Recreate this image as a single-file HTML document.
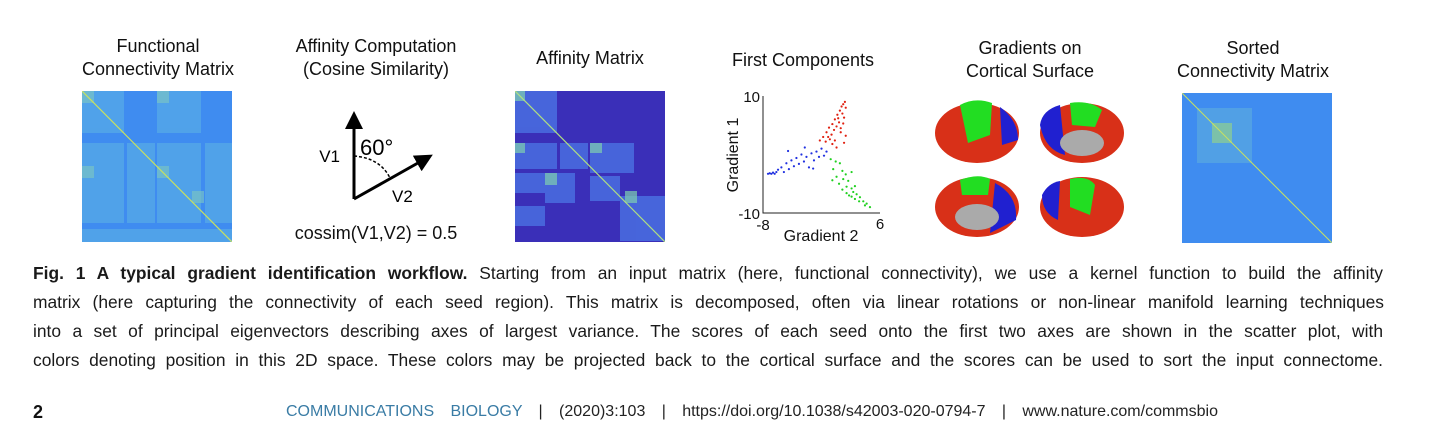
<!DOCTYPE html>
<html><head><meta charset="utf-8"><style>
body{margin:0;width:1438px;height:445px;background:#fff;position:relative;overflow:hidden;font-family:"Liberation Sans",sans-serif;color:#111}
.t{position:absolute;font-size:18px;text-align:center;line-height:23px;color:#111}
.cap{position:absolute;left:33px;top:259px;font-size:17.4px;line-height:29px;color:#1a1a1a}
.ln{display:block;white-space:nowrap;text-align:justify;text-align-last:justify;height:29px}
.mat{position:absolute}
</style></head><body>
<div class="t" style="left:58px;top:35px;width:200px">Functional<br>Connectivity Matrix</div>
<div class="t" style="left:266px;top:35px;width:220px">Affinity Computation<br>(Cosine Similarity)</div>
<div class="t" style="left:490px;top:47px;width:200px">Affinity Matrix</div>
<div class="t" style="left:703px;top:49px;width:200px">First Components</div>
<div class="t" style="left:930px;top:37px;width:200px">Gradients on<br>Cortical Surface</div>
<div class="t" style="left:1143px;top:37px;width:220px">Sorted<br>Connectivity Matrix</div>

<svg class="mat" style="left:82px;top:91px" width="150" height="151">
<rect width="150" height="151" fill="#3f8cf0"/>
<g fill="#55a8e8" opacity="0.8"><rect x="0" y="0" width="42" height="42"/><rect x="75" y="0" width="44" height="42"/><rect x="0" y="52" width="42" height="80"/><rect x="45" y="52" width="28" height="80"/><rect x="75" y="52" width="44" height="80"/><rect x="123" y="52" width="27" height="80"/><rect x="0" y="138" width="150" height="13"/></g>
<g fill="#7ec8c0" opacity="0.6"><rect x="0" y="0" width="12" height="12"/><rect x="75" y="0" width="12" height="12"/><rect x="0" y="75" width="12" height="12"/><rect x="75" y="75" width="12" height="12"/><rect x="110" y="100" width="12" height="12"/></g>
<line x1="0" y1="0" x2="150" y2="151" stroke="#c8e060" stroke-width="1.2"/>
</svg>

<svg class="mat" style="left:515px;top:91px" width="150" height="151">
<rect width="150" height="151" fill="#3a2fb8"/>
<g fill="#4a6ee0" opacity="0.85"><rect x="0" y="0" width="42" height="42"/><rect x="0" y="52" width="42" height="26"/><rect x="45" y="52" width="28" height="26"/><rect x="75" y="52" width="44" height="30"/><rect x="0" y="82" width="30" height="20"/><rect x="30" y="82" width="30" height="30"/><rect x="75" y="85" width="30" height="25"/><rect x="105" y="105" width="45" height="45"/><rect x="0" y="115" width="30" height="20"/></g>
<g fill="#7fd0b0" opacity="0.7"><rect x="0" y="0" width="10" height="10"/><rect x="0" y="52" width="10" height="10"/><rect x="30" y="82" width="12" height="12"/><rect x="75" y="52" width="12" height="10"/><rect x="110" y="100" width="12" height="12"/></g>
<line x1="0" y1="0" x2="150" y2="151" stroke="#b0e080" stroke-width="1.2"/>
</svg>

<svg class="mat" style="left:1182px;top:93px" width="150" height="150">
<rect width="150" height="150" fill="#3f8cf0"/>
<rect x="15" y="15" width="55" height="55" fill="#5aa8e0" opacity="0.7"/>
<rect x="30" y="30" width="20" height="20" fill="#8fcf90" opacity="0.7"/>
<line x1="0" y1="0" x2="150" y2="150" stroke="#c8e060" stroke-width="1"/>
</svg>

<svg style="position:absolute;left:290px;top:100px" width="180" height="150">
<defs><marker id="ah" markerWidth="6" markerHeight="6" refX="3" refY="3" orient="auto"><path d="M0,0 L6,3 L0,6 z" fill="#000"/></marker></defs>
<line x1="64" y1="99" x2="64" y2="20" stroke="#000" stroke-width="3" marker-end="url(#ah)"/>
<line x1="64" y1="99" x2="135" y2="59" stroke="#000" stroke-width="3" marker-end="url(#ah)"/>
<path d="M64,56 Q90,58 100,78" fill="none" stroke="#000" stroke-width="1.5" stroke-dasharray="3,2"/>
<text x="50" y="62" font-size="17" font-family="Liberation Sans" text-anchor="end">V1</text>
<text x="70" y="55" font-size="22" font-family="Liberation Sans">60°</text>
<text x="102" y="102" font-size="17" font-family="Liberation Sans">V2</text>
</svg>
<div class="t" style="left:266px;top:222px;width:220px;font-size:18px">cossim(V1,V2) = 0.5</div>

<svg id="sc" style="position:absolute;left:700px;top:80px" width="200" height="170"></svg>

<svg style="position:absolute;left:930px;top:95px" width="200" height="150">
<g><ellipse cx="47" cy="38" rx="42" ry="30" fill="#d83018"/><path d="M30,10 Q45,2 62,8 L60,40 L38,48 Z" fill="#22dd22"/><path d="M70,12 Q88,25 88,45 L72,50 Z" fill="#2020d0"/></g>
<g><ellipse cx="152" cy="38" rx="42" ry="30" fill="#d83018"/><path d="M110,30 Q112,15 130,10 L135,60 Q115,55 110,30Z" fill="#2020d0"/><path d="M140,8 Q160,5 172,15 L165,32 L142,30Z" fill="#22dd22"/><ellipse cx="152" cy="48" rx="22" ry="13" fill="#aaa"/></g>
<g><ellipse cx="47" cy="112" rx="42" ry="30" fill="#d83018"/><path d="M30,85 Q48,78 60,84 L58,100 L32,100Z" fill="#22dd22"/><path d="M65,88 Q88,100 86,125 L60,138Z" fill="#2020d0"/><ellipse cx="47" cy="122" rx="22" ry="13" fill="#aaa"/></g>
<g><ellipse cx="152" cy="112" rx="42" ry="30" fill="#d83018"/><path d="M140,84 Q158,80 165,90 L160,120 L140,112Z" fill="#22dd22"/><path d="M112,100 Q118,88 130,86 L128,125 Q112,118 112,100Z" fill="#2020d0"/></g>
</svg>

<div class="cap">
<span class="ln" style="width:1350px"><b>Fig. 1 A typical gradient identification workflow.</b> Starting from an input matrix (here, functional connectivity), we use a kernel function to build the affinity</span>
<span class="ln" style="width:1351px">matrix (here capturing the connectivity of each seed region). This matrix is decomposed, often via linear rotations or non-linear manifold learning techniques</span>
<span class="ln" style="width:1350px">into a set of principal eigenvectors describing axes of largest variance. The scores of each seed onto the first two axes are shown in the scatter plot, with</span>
<span class="ln" style="width:1350px">colors denoting position in this 2D space. These colors may be projected back to the cortical surface and the scores can be used to sort the input connectome.</span>
</div>
<div style="position:absolute;left:33px;top:402px;font-size:18px;font-weight:bold">2</div>
<div style="position:absolute;left:286px;top:403px;width:932px;font-size:16px;color:#222;white-space:nowrap;text-align:justify;text-align-last:justify"><span style="color:#3a7ca5">COMMUNICATIONS BIOLOGY</span> | (2020)3:103 | https://doi.org/10.1038/s42003-020-0794-7 | www.nature.com/commsbio</div>

<script>
const xTicks=[-8,6];
const yTicks=[-10,10];
const redPts=[[1.8,9],[1.6,8.6],[1.4,8.2],[1.9,8],[1.2,7.5],[1.5,7],[0.9,6.8],[1.7,6.3],[0.6,6],[1.1,5.5],[0.3,5.2],[0.8,4.8],[-0.1,4.6],[0.5,4.2],[1.3,4.5],[-0.4,3.8],[0.2,3.4],[1.9,3.2],[-0.8,3],[0.0,2.6],[1.7,2],[-0.5,2.2],[0.3,1.8],[-1.2,2.4],[0.8,1.2],[1.0,6.2],[1.6,5.3],[-0.2,3],[0.6,2.4],[1.3,3.8]];
const greenPts=[[0.1,-0.8],[0.7,-1.2],[1.2,-1.5],[0.4,-2.5],[1.5,-2.8],[2.6,-3],[0.8,-3.8],[1.6,-4.2],[2.2,-4.5],[1.1,-5],[2,-5.5],[2.6,-5.8],[1.5,-6],[2.8,-6.4],[3.2,-6.8],[2.3,-7],[3.6,-7.3],[3.0,-7.6],[4,-8],[3.5,-8],[4.4,-8.4],[4.8,-9],[4.2,-8.7],[2.0,-6.6],[3.0,-5.4],[0.3,-4.4],[1.9,-3.4],[2.6,-7.2]];
const bluePts=[[-7.4,-3.3],[-7.2,-3.2],[-7,-3.3],[-6.8,-3.1],[-6.6,-3.3],[-6.4,-3.0],[-6.2,-2.6],[-5.8,-2.2],[-5.5,-3.0],[-5.2,-1.5],[-4.9,-2.5],[-4.6,-1.0],[-4.3,-2.0],[-4,-0.6],[-3.7,-1.6],[-3.4,0],[-3.1,-1.2],[-2.8,-0.4],[-2.5,-2.2],[-2.2,0.2],[-1.9,-1.0],[-1.6,0.5],[-1.3,-0.4],[-1.0,1.0],[-0.7,-0.2],[-0.4,0.5],[-3.0,1.2],[-5.0,0.6],[-2.0,-2.4]];
const X0=63,X1=180,Y0=133,Y1=16;
function sx(v){return X0+(v-xTicks[0])/(xTicks[1]-xTicks[0])*(X1-X0);}
function sy(v){return Y0-(v-yTicks[0])/(yTicks[1]-yTicks[0])*(Y0-Y1);}
const svg=document.getElementById('sc');const NS='http://www.w3.org/2000/svg';
function mk(t,a){const e=document.createElementNS(NS,t);for(const k in a)e.setAttribute(k,a[k]);svg.appendChild(e);return e;}
let ax=mk('path',{d:`M${X0},${Y1} V${Y0} H${X1}`,fill:'none',stroke:'#222','stroke-width':1});


function txt(s,x,y,anc,fs,rot){const e=mk('text',{x:x,y:y,'text-anchor':anc,'font-size':fs,'font-family':'Liberation Sans',fill:'#111'});if(rot)e.setAttribute('transform',`rotate(-90 ${x} ${y})`);e.textContent=s;return e;}
let t;
t=txt(String(yTicks[1]),X0-3,sy(yTicks[1])+6,'end',15);
t=txt(String(yTicks[0]),X0-3,sy(yTicks[0])+6,'end',15);
t=txt(String(xTicks[0]),sx(xTicks[0]),Y0+17,'middle',15);
t=txt(String(xTicks[1]),sx(xTicks[1]),Y0+16,'middle',15);
t=txt('Gradient 2',121,Y0+28,'middle',16);
t=txt('Gradient 1',38,75,'middle',16,true);
function pts(arr,col,name){arr.forEach(p=>{const c=mk('circle',{cx:sx(p[0]),cy:sy(p[1]),r:1.1,fill:col});

});}
pts(redPts,'#e02010','point-red');pts(greenPts,'#20d020','point-green');pts(bluePts,'#2030e0','point-blue');
</script>
</body></html>
